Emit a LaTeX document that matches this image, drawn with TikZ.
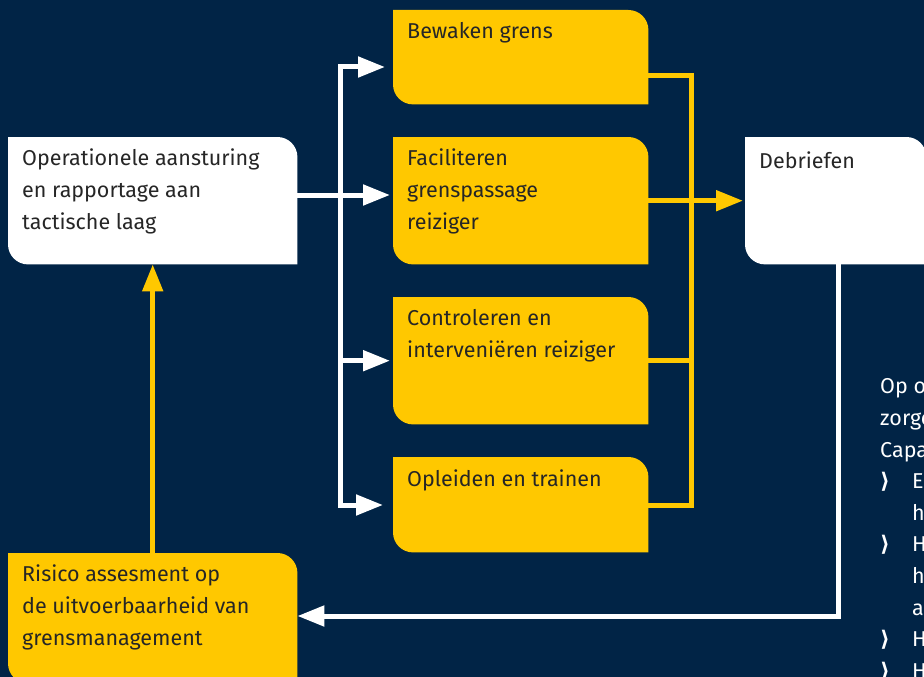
\documentclass[tikz,border=0pt]{standalone}
\usepackage{fontspec}
\setmainfont{Fira Sans}
\newfontfamily\bulletfont{DejaVu Sans}
\usetikzlibrary{arrows.meta}
\definecolor{navy}{HTML}{012446}
\definecolor{signal}{HTML}{FFC800}
\definecolor{ink}{HTML}{262626}
\tikzset{
  box/.style={inner sep=0pt,anchor=north west},
  % the strut makes the first baseline sit well below the node's top
  box text/.style={inner sep=0pt,anchor=north west,align=left,text=ink,
    font=\fontsize{21.5}{32}\selectfont,execute at begin node=\strut},
  white line/.style={draw=white,line width=5pt},
  yellow line/.style={draw=signal,line width=5pt},
  to head/.style={-{Triangle[length=27pt,width=20pt]}},
}
\newcommand\chev{\makebox[32pt][l]{\bulletfont\bfseries ⟩}}
\begin{document}
\begin{tikzpicture}[x=1pt,y=1pt]
\useasboundingbox (0,0) rectangle (924,-677);
\fill[navy] (0,0) rectangle (924,-677);
% boxes
\node[box,minimum width=289pt,minimum height=127pt] (oper) at (8,-137) {};
\node[box,minimum width=255pt,minimum height=94pt] (bewaken) at (393,-10) {};
\node[box,minimum width=255pt,minimum height=127pt] (faciliteren) at (393,-137) {};
\node[box,minimum width=255pt,minimum height=127pt] (controleren) at (393,-297) {};
\node[box,minimum width=255pt,minimum height=95pt] (opleiden) at (393,-457) {};
\node[box,minimum width=181pt,minimum height=127pt] (debriefen) at (745,-137) {};
\node[box,minimum width=289pt,minimum height=130pt] (risico) at (8,-553) {};
\foreach \n/\c in {oper/white,bewaken/signal,faciliteren/signal,controleren/signal,
    opleiden/signal,debriefen/white,risico/signal}
  \fill[\c] (\n.north west) -- ([xshift=-20pt]\n.north east)
    arc[start angle=90,end angle=0,radius=20pt] -- (\n.south east)
    -- ([xshift=20pt]\n.south west)
    arc[start angle=270,end angle=180,radius=20pt] -- cycle;
% texts in the boxes
\node[box text] (oper-text) at ([shift={(14pt,-12pt)}]oper.north west)
  {Operationele aansturing\\en rapportage aan\\tactische laag};
\node[box text] (bewaken-text) at ([shift={(14pt,-6pt)}]bewaken.north west) {Bewaken grens};
\node[box text] (faciliteren-text) at ([shift={(14pt,-12pt)}]faciliteren.north west)
  {Faciliteren\\grenspassage\\reiziger};
\node[box text] (controleren-text) at ([shift={(14pt,-12pt)}]controleren.north west)
  {Controleren en\\interveniëren reiziger};
\node[box text] (opleiden-text) at ([shift={(14pt,-7pt)}]opleiden.north west) {Opleiden en trainen};
\node[box text] (debriefen-text) at ([shift={(14pt,-9pt)}]debriefen.north west) {Debriefen};
\node[box text] (risico-text) at ([shift={(14pt,-12pt)}]risico.north west)
  {Risico assesment op\\de uitvoerbaarheid van\\grensmanagement};
% white connectors
\coordinate (wsplit) at (340,-195);
\coordinate (wtop) at (340,-67);
\coordinate (wbot) at (340,-505);
\draw[white line,to head,shorten >=3pt] (oper.east |- wsplit) -- (faciliteren.west |- wsplit);
\draw[white line,to head,shorten >=8pt] (wbot) -- (wtop) -- (bewaken.west |- wtop);
\draw[white line,to head,shorten >=10pt] (wtop) -- (wbot) -- (opleiden.west |- wbot);
\draw[white line,to head,shorten >=3pt] (wtop |- controleren.west) -- (controleren.west);
\coordinate (wret) at (838,-616);
\draw[white line,to head] (debriefen.south -| wret) |- (risico.east |- wret);
% yellow connectors
\coordinate (ytop) at (691,-75.5);
\coordinate (ybot) at (691,-505);
\draw[yellow line] (bewaken.east |- ytop) -| (ybot) -- (opleiden.east |- ybot);
\draw[yellow line] (controleren.east) -- (ytop |- controleren.east);
\draw[yellow line,to head,shorten >=2pt] (faciliteren.east) -- (debriefen.west);
\draw[yellow line,to head] (risico.north) -- (oper.south);
% text on the right
\node[box text,text=white,font=\fontsize{21.5}{31.6}\selectfont] (capaciteit) at (880,-378.6)
  {Op o\\zorge\\Capa\\\chev E\\\hspace*{32pt}h\\\chev H\\\hspace*{32pt}h\\\hspace*{32pt}a\\\chev H\\\chev H};
\end{tikzpicture}
\end{document}
